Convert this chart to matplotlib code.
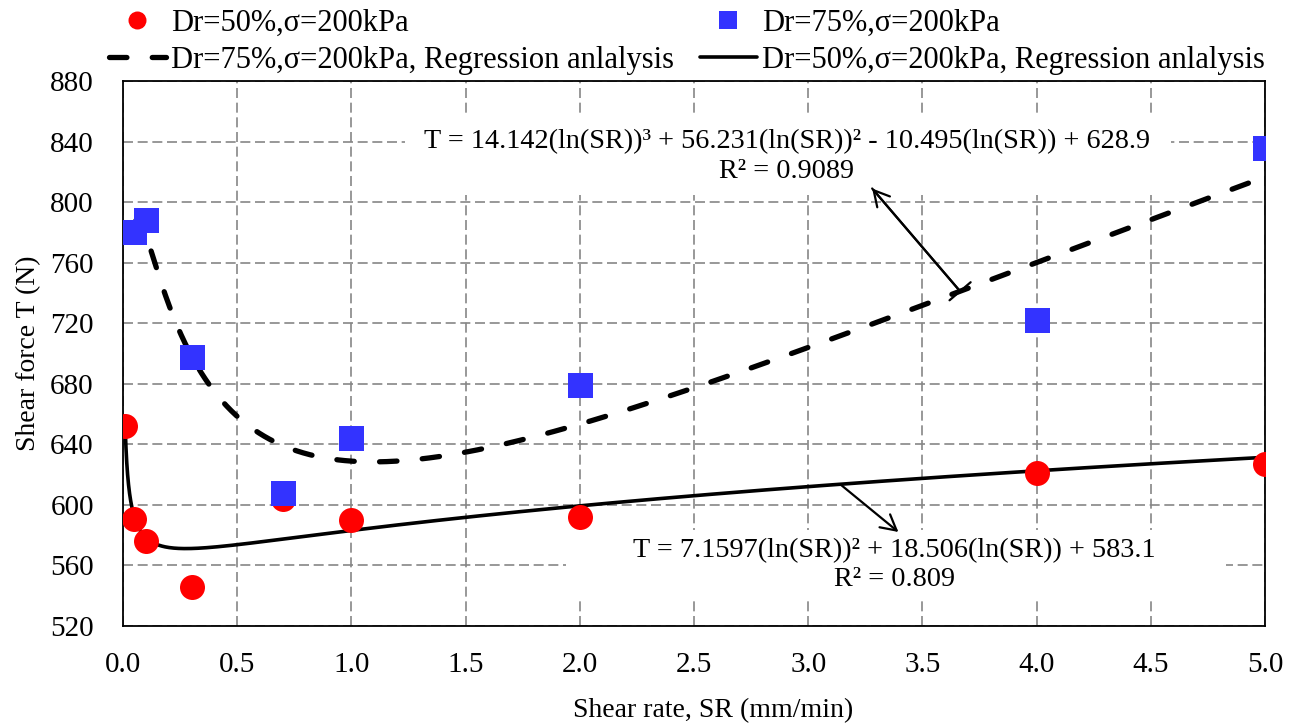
import numpy as np
import matplotlib
matplotlib.use("Agg")
import matplotlib.pyplot as plt
from matplotlib.patches import ArrowStyle, Rectangle

# Measured shear force T (N) against shear rate SR (mm/min)
sr_50 = [0.01, 0.05, 0.1, 0.3, 0.7, 1.0, 2.0, 4.0, 5.0]
force_50 = [652, 591, 576, 546, 604, 590, 592, 621, 627]
sr_75 = [0.05, 0.1, 0.3, 0.7, 1.0, 2.0, 4.0, 5.0]
force_75 = [780, 788, 698, 608, 644, 679, 722, 836]

# Regression coefficients in ln(SR), highest power first
coef_50 = [7.1597, 18.506, 583.1]
coef_75 = [14.142, 56.231, -10.495, 628.9]
r2_50 = "0.809"
r2_75 = "0.9089"

label_50 = "Dr=50%,σ=200kPa"
label_75 = "Dr=75%,σ=200kPa"
fit_suffix = ", Regression anlalysis"

x_ticks = np.arange(0.0, 5.01, 0.5)
y_ticks = np.arange(520, 881, 40)

SERIF = "Liberation Serif"
plt.rcParams["font.family"] = [SERIF, "DejaVu Serif"]

W, H = 1294, 726
fig = plt.figure(figsize=(W / 100, H / 100), dpi=100)
ax = fig.add_axes([123 / W, 1 - 626 / H, (1265 - 123) / W, (626 - 81) / H])


def equation(coefs):
    powers = {3: "³", 2: "²", 1: ""}
    deg = len(coefs) - 1
    parts = []
    for i, c in enumerate(coefs):
        p = deg - i
        mag = f"{abs(c):g}"
        term = mag if p == 0 else f"{mag}(ln(SR)){powers[p]}"
        if not parts:
            parts.append(("- " if c < 0 else "") + term)
        else:
            parts.append(("- " if c < 0 else "+ ") + term)
    return "T = " + " ".join(parts)


def fit_curve(coefs, x_from):
    x = np.unique(np.concatenate([np.geomspace(x_from, 5.0, 400),
                                  np.linspace(x_from, 5.0, 400)]))
    return x, np.polyval(coefs, np.log(x))


x50, t50 = fit_curve(coef_50, min(sr_50))
x75, t75 = fit_curve(coef_75, min(sr_75))

line75, = ax.plot(x75, t75, color="black", lw=3.8, dashes=(3.3, 4.8),
                  dash_capstyle="round", zorder=3)
line50, = ax.plot(x50, t50, color="black", lw=2.6,
                  solid_capstyle="round", zorder=3)
pts50, = ax.plot(sr_50, force_50, "o", ms=18, color="#ff0000", mew=0,
                 linestyle="none", zorder=4)
pts75, = ax.plot(sr_75, force_75, "s", ms=18, color="#3333ff", mew=0,
                 linestyle="none", zorder=5)

ax.set_xlim(0, 5)
ax.set_ylim(520, 880)
ax.set_xticks(x_ticks)
ax.set_yticks(y_ticks)
ax.set_xticklabels([f"{v:.1f}" for v in x_ticks])
ax.set_yticklabels([f"{v:d}" for v in y_ticks])
ax.tick_params(axis="both", length=0, labelsize=21)
ax.tick_params(axis="x", pad=19)
ax.tick_params(axis="y", pad=21)
ax.grid(True, color="#868686", lw=1.2, linestyle=(0, (6, 2.8)), zorder=0)
ax.set_axisbelow(True)
for sp in ax.spines.values():
    sp.set_linewidth(1.3)
    sp.set_color("black")

ax.set_xlabel("Shear rate, SR (mm/min)", fontsize=20)
ax.xaxis.set_label_coords((713 - 123) / 1142, -0.132)
ax.set_ylabel("Shear force T (N)", fontsize=20)
ax.yaxis.set_label_coords(-0.072, 0.5)

# White boxes behind the regression equations
ax.add_patch(Rectangle((1.235, 804.7), 4.59 - 1.235, 857.5 - 804.7,
                       facecolor="white", edgecolor="none", zorder=2))
ax.add_patch(Rectangle((1.94, 539.2), 4.83 - 1.94, 583.4 - 539.2,
                       facecolor="white", edgecolor="none", zorder=2))

ax.text(2.907, 830, equation(coef_75) + "\nR² = " + r2_75, ha="center",
        va="center", multialignment="center", fontsize=20.3, linespacing=1.25,
        zorder=6)
ax.text(3.378, 560.3, equation(coef_50) + "\nR² = " + r2_50, ha="center",
        va="center", multialignment="center", fontsize=20.3, linespacing=1.2,
        zorder=6)

# Pointers from the curves to their equations
arrow_kw = dict(color="black", lw=1.6, shrinkA=0, shrinkB=0, mutation_scale=20)
tail75 = (3.665, np.polyval(coef_75, np.log(3.665)))
head75 = (3.28, 809)
ax.annotate("", xy=head75, xytext=tail75, zorder=7,
            arrowprops=dict(arrowstyle=ArrowStyle("->", head_length=0.55, head_width=0.3),
                            **arrow_kw))
ax.annotate("", xy=head75, xytext=tail75, zorder=7,
            arrowprops=dict(arrowstyle=ArrowStyle("]-", widthA=0.5, lengthA=0),
                            **arrow_kw))
tail50 = (3.14, np.polyval(coef_50, np.log(3.14)))
head50 = (3.395, 582.1)
ax.annotate("", xy=head50, xytext=tail50, zorder=7,
            arrowprops=dict(arrowstyle=ArrowStyle("->", head_length=0.55, head_width=0.3),
                            **arrow_kw))

# Two-column legend above the plot
leg_kw = dict(loc="center left", frameon=False, borderpad=0, borderaxespad=0,
              handlelength=1.86, handletextpad=0.16, labelspacing=0.26,
              markerscale=0.72, fontsize=22)
leg1 = fig.legend([pts50, line75], [label_50, label_75 + fit_suffix],
                  bbox_to_anchor=(109 / W, 1 - 42 / H), **leg_kw)
leg2 = fig.legend([pts75, line50], [label_75, label_50 + fit_suffix],
                  bbox_to_anchor=(700 / W, 1 - 42 / H), **leg_kw)

fig.savefig("out.png", dpi=100)
